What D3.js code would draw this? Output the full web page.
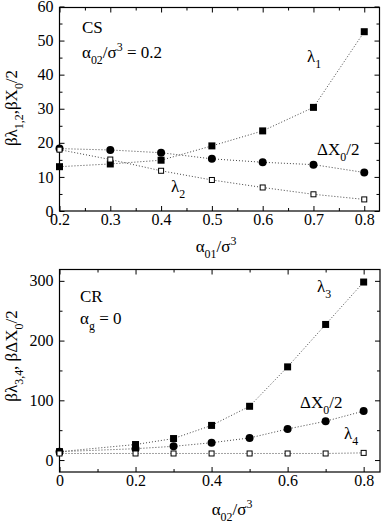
<!DOCTYPE html>
<html>
<head>
<meta charset="utf-8">
<script src="https://cdn.jsdelivr.net/npm/d3@7"></script>
<style>
  body { margin: 0; background: #fff; }
  svg { font-family: "Liberation Serif", "DejaVu Serif", serif; }
  .tick text { font-family: "Liberation Serif", "DejaVu Serif", serif; font-size: 16px; fill: #000; }
  .tick line { stroke: #000; }
  .domain { display: none; }
  .conn { fill: none; stroke: #444; stroke-width: 1; stroke-dasharray: 1,2; }
</style>
</head>
<body>
<svg id="chart" width="382" height="524"></svg>
<script>
'use strict';

// top panel (CS): x = alpha01/sigma^3
const xTop = [0.2, 0.3, 0.4, 0.5, 0.6, 0.7, 0.8];
const lambda1 = [13.0, 13.8, 14.9, 19.1, 23.5, 30.4, 52.6];
const dX0Top = [18.3, 17.9, 17.1, 15.3, 14.3, 13.6, 11.3];
const lambda2 = [18.0, 15.1, 11.8, 9.1, 6.9, 4.9, 3.4];
const xTicksTop = [0.2, 0.3, 0.4, 0.5, 0.6, 0.7, 0.8];
const yTicksTop = [0, 10, 20, 30, 40, 50, 60];

// bottom panel (CR): x = alpha02/sigma^3
const xBot = [0, 0.2, 0.3, 0.4, 0.5, 0.6, 0.7, 0.8];
const lambda3 = [14, 26, 36, 58, 90, 156, 227, 298];
const dX0Bot = [14, 19, 23, 29, 37, 52, 65, 82];
const lambda4 = [11, 11, 11, 11, 11, 11, 11, 12];
const xTicksBot = [0, 0.2, 0.4, 0.6, 0.8];
const yTicksBot = [0, 100, 200, 300];

const svg = d3.select('#chart');

/**
 * write a text made of pieces, some of them sub- or superscript
 */
function richText(g, x, y, parts, size, attrs) {
    const t = g.append('text')
        .attr('x', x)
        .attr('y', y)
        .style('font-size', size + 'px');
    if (attrs) Object.keys(attrs).forEach(k => t.attr(k, attrs[k]));
    let shift = 0;
    parts.forEach(p => {
        const want = p.sub ? size * 0.33 : p.sup ? -size * 0.42 : 0;
        t.append('tspan')
            .attr('dy', want - shift)
            .style('font-size', (p.sub || p.sup ? size * 0.7 : size) + 'px')
            .text(p.t);
        shift = want;
    });
    return t;
}

function drawPanel(cfg) {
    const g = svg.append('g');
    const x = d3.scaleLinear().domain(cfg.xDomain).range([cfg.left, cfg.right]);
    const y = d3.scaleLinear().domain(cfg.yDomain).range([cfg.bottom, cfg.top]);

    // major + minor ticks, inward, on four sides
    const addAxis = (axisFn, scale, vals, size, transform, pad) => {
        g.append('g')
            .attr('transform', transform)
            .call(axisFn(scale).tickValues(vals).tickSizeInner(-size).tickSizeOuter(0)
                .tickPadding(pad || 0)
                .tickFormat(pad ? cfg.fmt(scale === x) : ''));
    };
    addAxis(d3.axisBottom, x, cfg.xTicks, 5, `translate(0,${cfg.bottom})`, 3);
    addAxis(d3.axisBottom, x, cfg.xMinor, 3, `translate(0,${cfg.bottom})`);
    addAxis(d3.axisTop, x, cfg.xTicks, 5, `translate(0,${cfg.top})`);
    addAxis(d3.axisTop, x, cfg.xMinor, 3, `translate(0,${cfg.top})`);
    addAxis(d3.axisLeft, y, cfg.yTicks, 5, `translate(${cfg.left},0)`, 6);
    addAxis(d3.axisLeft, y, cfg.yMinor, 3, `translate(${cfg.left},0)`);
    addAxis(d3.axisRight, y, cfg.yTicks, 5, `translate(${cfg.right},0)`);
    addAxis(d3.axisRight, y, cfg.yMinor, 3, `translate(${cfg.right},0)`);

    g.append('rect')
        .attr('x', cfg.left).attr('y', cfg.top)
        .attr('width', cfg.right - cfg.left).attr('height', cfg.bottom - cfg.top)
        .attr('fill', 'none').attr('stroke', '#000').attr('stroke-width', 1.2);

    const line = d3.line().x(d => x(d[0])).y(d => y(d[1]));

    cfg.series.forEach(s => {
        const pts = cfg.xs.map((v, i) => [v, s.values[i]]);
        g.append('path').attr('class', 'conn').attr('d', line(pts));
    });

    cfg.series.forEach(s => {
        const pts = cfg.xs.map((v, i) => [v, s.values[i]]);
        const m = g.append('g').selectAll('.m').data(pts).enter();
        if (s.shape === 'circle') {
            m.append('circle')
                .attr('cx', d => x(d[0])).attr('cy', d => y(d[1]))
                .attr('r', 4).attr('fill', '#000');
        } else if (s.shape === 'square') {
            m.append('rect')
                .attr('x', d => x(d[0]) - 3.5).attr('y', d => y(d[1]) - 3.5)
                .attr('width', 7).attr('height', 7).attr('fill', '#000');
        } else {
            m.append('rect')
                .attr('x', d => x(d[0]) - 2.5).attr('y', d => y(d[1]) - 2.5)
                .attr('width', 5).attr('height', 5)
                .attr('fill', '#fff').attr('stroke', '#000').attr('stroke-width', 1);
        }
    });
    return g;
}

// top panel
const topPanel = drawPanel({
    left: 59.5, right: 379.5, top: 7.5, bottom: 211,
    xDomain: [0.2, 0.83], yDomain: [0, 59.7],
    xTicks: xTicksTop, xMinor: d3.range(0.25, 0.83, 0.1),
    yTicks: yTicksTop, yMinor: d3.range(5, 60, 10),
    fmt: isX => isX ? d3.format('.1f') : d3.format('d'),
    xs: xTop,
    series: [
        { values: lambda1, shape: 'square' },
        { values: dX0Top, shape: 'circle' },
        { values: lambda2, shape: 'open' }
    ]
});

richText(topPanel, 82, 33, [{ t: 'CS' }], 17);
richText(topPanel, 82, 58, [{ t: 'α' }, { t: '02', sub: true }, { t: '/σ' }, { t: '3', sup: true }, { t: ' = 0.2' }], 17);
richText(topPanel, 307, 62, [{ t: 'λ' }, { t: '1', sub: true }], 17);
richText(topPanel, 317, 155, [{ t: 'ΔX' }, { t: '0', sub: true }, { t: '/2' }], 17);
richText(topPanel, 171, 192, [{ t: 'λ' }, { t: '2', sub: true }], 17);
richText(topPanel, 216, 252, [{ t: 'α' }, { t: '01', sub: true }, { t: '/σ' }, { t: '3', sup: true }], 17,
    { 'text-anchor': 'middle' });
richText(topPanel, 0, 0, [{ t: 'βλ' }, { t: '1,2', sub: true }, { t: ',βX' }, { t: '0', sub: true }, { t: '/2' }], 17,
    { 'text-anchor': 'middle', transform: 'translate(17,108) rotate(-90)' });

// bottom panel
const botPanel = drawPanel({
    left: 59.5, right: 380, top: 269.5, bottom: 472,
    xDomain: [0, 0.843], yDomain: [-20, 319],
    xTicks: xTicksBot, xMinor: d3.range(0.1, 0.84, 0.2),
    yTicks: yTicksBot, yMinor: d3.range(50, 319, 100),
    fmt: isX => isX ? (d => d === 0 ? '0' : d3.format('.1f')(d)) : d3.format('d'),
    xs: xBot,
    series: [
        { values: lambda3, shape: 'square' },
        { values: dX0Bot, shape: 'circle' },
        { values: lambda4, shape: 'open' }
    ]
});

richText(botPanel, 80, 302, [{ t: 'CR' }], 17);
richText(botPanel, 80, 324, [{ t: 'α' }, { t: 'g', sub: true }, { t: ' = 0' }], 17);
richText(botPanel, 317, 292, [{ t: 'λ' }, { t: '3', sub: true }], 17);
richText(botPanel, 300, 408, [{ t: 'ΔX' }, { t: '0', sub: true }, { t: '/2' }], 17);
richText(botPanel, 344, 439, [{ t: 'λ' }, { t: '4', sub: true }], 17);
richText(botPanel, 232, 515, [{ t: 'α' }, { t: '02', sub: true }, { t: '/σ' }, { t: '3', sup: true }], 17,
    { 'text-anchor': 'middle' });
richText(botPanel, 0, 0, [{ t: 'βλ' }, { t: '3,4', sub: true }, { t: ', βΔX' }, { t: '0', sub: true }, { t: '/2' }], 17,
    { 'text-anchor': 'middle', transform: 'translate(17,356) rotate(-90)' });
</script>
</body>
</html>
